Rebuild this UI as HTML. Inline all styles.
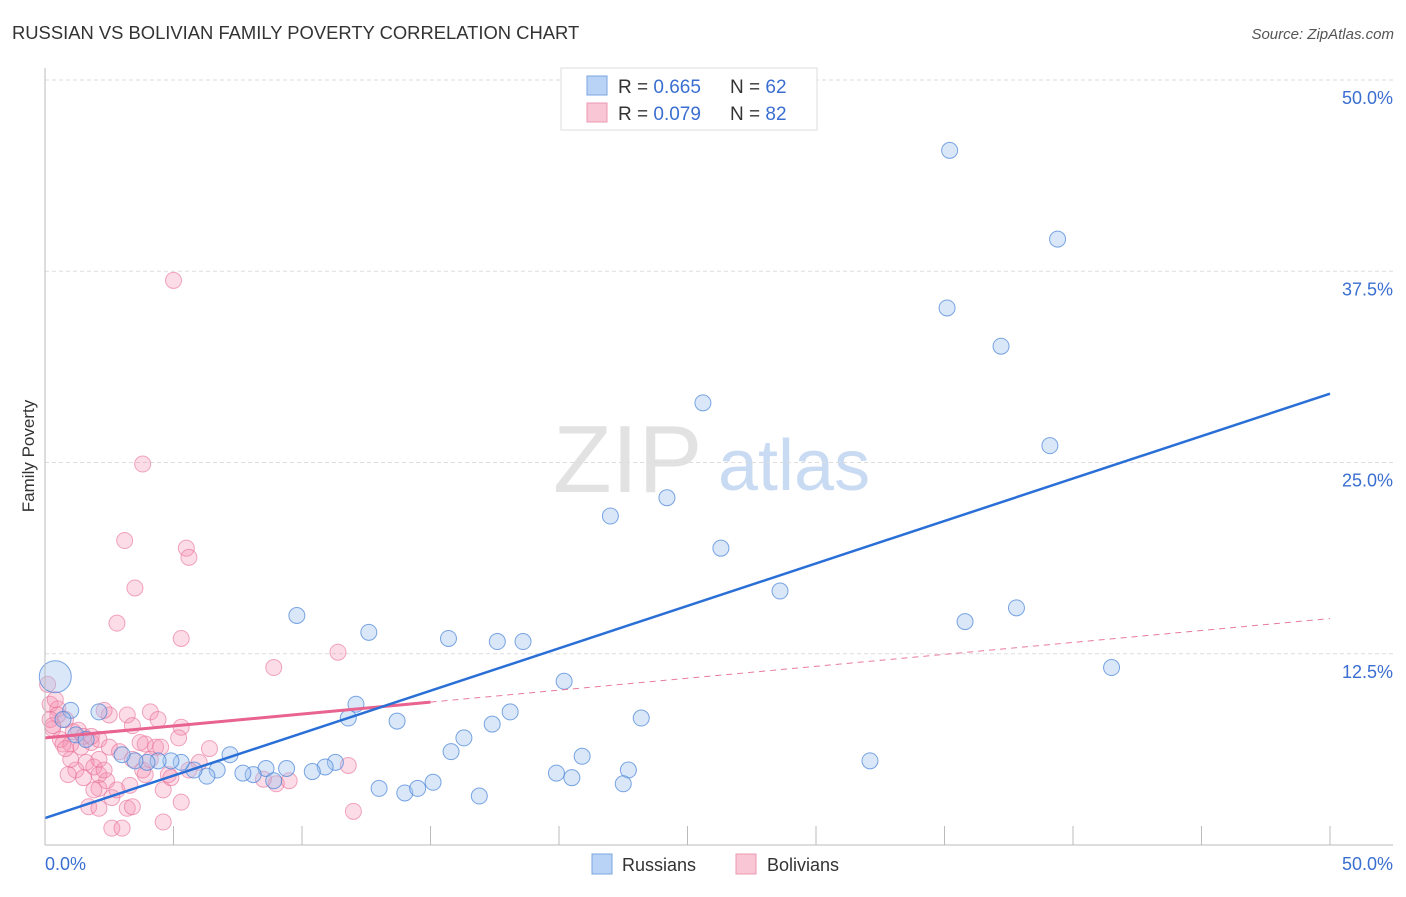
<!DOCTYPE html>
<html><head><meta charset="utf-8"><style>
body{margin:0;background:#fff;font-family:"Liberation Sans",sans-serif;}
svg text{font-family:"Liberation Sans",sans-serif;}
</style></head><body>
<svg id="chart" width="1406" height="892">
<text x="12" y="39" font-size="18.4" fill="#333">RUSSIAN VS BOLIVIAN FAMILY POVERTY CORRELATION CHART</text>
<text x="1394" y="39" font-size="15" fill="#555" font-style="italic" text-anchor="end">Source: ZipAtlas.com</text>
<text transform="translate(34,456) rotate(-90)" font-size="17" fill="#333" text-anchor="middle">Family Poverty</text>
<g>
<text x="553" y="492" font-size="96" font-family="Liberation Serif" fill="#e2e2e2">ZIP</text>
<text x="718" y="490" font-size="72" fill="#c9dbf3">atlas</text>
</g>
<g id="grid"></g><g id="pts"></g><g id="lines"></g>
<line x1="45" y1="68" x2="45" y2="845" stroke="#bbb"/>
<line x1="45" y1="845" x2="1393" y2="845" stroke="#bbb"/>
<text x="45" y="870" font-size="18" fill="#3a6fd1">0.0%</text>
<text x="1393" y="870" font-size="18" fill="#3a6fd1" text-anchor="end">50.0%</text>
<g>
<rect x="561" y="68" width="256" height="62" fill="#fff" stroke="#ddd"/>
<rect x="587" y="76" width="20" height="19" fill="#b8d3f5" stroke="#7aa6e0"/>
<rect x="587" y="103" width="20" height="19" fill="#f9c6d6" stroke="#ec98b3"/>
<text x="618" y="93" font-size="19" fill="#333">R = <tspan fill="#3a6fd1">0.665</tspan></text>
<text x="730" y="93" font-size="19" fill="#333">N = <tspan fill="#3a6fd1">62</tspan></text>
<text x="618" y="120" font-size="19" fill="#333">R = <tspan fill="#3a6fd1">0.079</tspan></text>
<text x="730" y="120" font-size="19" fill="#333">N = <tspan fill="#3a6fd1">82</tspan></text>
</g>
<g>
<rect x="592" y="854" width="20" height="20" fill="#b8d3f5" stroke="#7aa6e0"/>
<text x="622" y="871" font-size="18" fill="#333">Russians</text>
<rect x="736" y="854" width="20" height="20" fill="#f9c6d6" stroke="#ec98b3"/>
<text x="767" y="871" font-size="18" fill="#333">Bolivians</text>
</g>
</svg>
<script>
const yTicks=[12.5,25,37.5,50];
const yTickLabels=["12.5%","25.0%","37.5%","50.0%"];
const xTicks=[5,10,15,20,25,30,35,40,45,50];
const rusX=[35.2,39.4,35.1,37.2,25.6,39.1,24.2,22.0,26.3,28.6,37.8,35.8,9.8,12.6,15.7,17.6,18.6,41.5,20.2,12.1,11.8,13.7,18.1,17.4,23.2,16.3,15.8,20.9,32.1,19.9,20.5,22.7,22.5,13.0,14.0,14.5,15.1,16.9,11.3,10.9,10.4,9.4,8.6,8.1,7.7,8.9,7.2,6.7,6.3,5.8,5.3,4.9,4.4,3.970,3.5,3.0,2.1,1.0,0.7,0.4,1.2,1.6];
const rusY=[45.4,39.6,35.1,32.6,28.9,26.1,22.7,21.5,19.4,16.6,15.5,14.6,15.0,13.9,13.5,13.3,13.3,11.6,10.7,9.2,8.3,8.1,8.7,7.9,8.3,7.0,6.1,5.8,5.5,4.7,4.4,4.9,4.0,3.7,3.4,3.7,4.1,3.2,5.4,5.1,4.8,5.0,5.0,4.6,4.7,4.2,5.9,4.9,4.5,4.9,5.4,5.5,5.5,5.4,5.5,5.9,8.7,8.8,8.2,11.0,7.2,6.9];
const rusR=[8,8,8,8,8,8,8,8,8,8,8,8,8,8,8,8,8,8,8,8,8,8,8,8,8,8,8,8,8,8,8,8,8,8,8,8,8,8,8,8,8,8,8,8,8,8,8,8,8,8,8,8,8,8,8,8,8,8,8,16,8,8];
const bolX=[5.0,3.8,3.1,5.5,5.6,3.5,2.8,5.3,8.9,11.4,0.1,0.2,0.5,0.8,0.3,0.6,1.0,1.4,1.8,2.1,2.5,2.3,3.2,3.4,4.1,4.4,5.3,2.5,2.9,1.6,1.9,1.2,1.0,1.5,2.1,2.4,2.6,2.1,1.7,2.1,3.2,3.4,2.6,3.0,4.6,5.3,4.6,3.9,4.3,3.7,3.9,4.8,6.0,6.4,8.5,9.0,9.5,11.8,12.0,0.5,0.7,0.8,1.1,1.3,1.5,1.8,2.1,2.3,2.8,3.4,3.8,4.1,4.5,5.2,5.6,4.9,0.4,0.2,0.9,1.9,3.3,0.3];
const bolY=[36.9,24.9,19.9,19.4,18.8,16.8,14.5,13.5,11.6,12.6,10.5,9.2,8.9,8.2,7.6,6.9,6.6,6.4,6.7,6.9,8.5,8.8,8.5,7.8,8.7,8.2,7.7,6.4,6.1,5.4,5.1,4.9,5.6,4.4,4.6,4.2,3.1,3.7,2.5,2.4,2.4,2.5,1.1,1.1,1.5,2.8,3.6,6.6,6.4,6.7,4.6,4.6,5.4,6.3,4.3,4.0,4.2,5.2,2.2,8.5,6.6,6.3,7.4,7.5,7.1,7.1,5.6,4.9,3.6,5.6,4.9,5.6,6.4,7.0,4.9,4.4,9.5,8.2,4.6,3.6,3.9,7.8];
const trendRusY=[1.76,29.5];
const trendBolY=[7.0,14.8];
const trendBolSolidEnd=15;
const X=v=>45+v*25.7, Y=v=>845-v*15.3;
const NS="http://www.w3.org/2000/svg";
function mk(tag,attrs,parent){const e=document.createElementNS(NS,tag);for(const k in attrs)e.setAttribute(k,attrs[k]);parent.appendChild(e);return e;}
const grid=document.getElementById('grid');
yTicks.forEach((t,i)=>{
 const l=mk('line',{x1:45,x2:1393,y1:Y(t),y2:Y(t),stroke:'#ddd','stroke-dasharray':'4,3'},grid);
 
 
 const tx=mk('text',{x:1393,y:Y(t)+24,'font-size':18,fill:'#3a6fd1','text-anchor':'end'},grid);
 tx.textContent=yTickLabels[i];
 
 
});
xTicks.forEach(t=>{
 const l=mk('line',{x1:X(t),x2:X(t),y1:826,y2:845,stroke:'#bbb'},grid);
 
 
});
const pts=document.getElementById('pts');
bolX.forEach((v,i)=>{
 const c=mk('circle',{cx:X(v),cy:Y(bolY[i]),r:8,fill:'rgba(244,143,177,0.3)',stroke:'rgba(232,110,150,0.6)','stroke-width':1},pts);
 
 
});
rusX.forEach((v,i)=>{
 const c=mk('circle',{cx:X(v),cy:Y(rusY[i]),r:rusR[i],fill:'rgba(160,195,240,0.4)',stroke:'rgba(70,130,215,0.7)','stroke-width':1},pts);
 
 
});
const lines=document.getElementById('lines');
const bAt=v=>trendBolY[0]+(trendBolY[1]-trendBolY[0])*v/50;
let l=mk('line',{x1:X(trendBolSolidEnd),y1:Y(bAt(trendBolSolidEnd)),x2:X(50),y2:Y(bAt(50)),stroke:'#e87aa0','stroke-width':1,'stroke-dasharray':'6,5'},lines);


l=mk('line',{x1:X(0),y1:Y(bAt(0)),x2:X(trendBolSolidEnd),y2:Y(bAt(trendBolSolidEnd)),stroke:'#e8638f','stroke-width':3},lines);


l=mk('line',{x1:X(0),y1:Y(trendRusY[0]),x2:X(50),y2:Y(trendRusY[1]),stroke:'#2a6fd6','stroke-width':2.5},lines);


</script>
</body></html>
